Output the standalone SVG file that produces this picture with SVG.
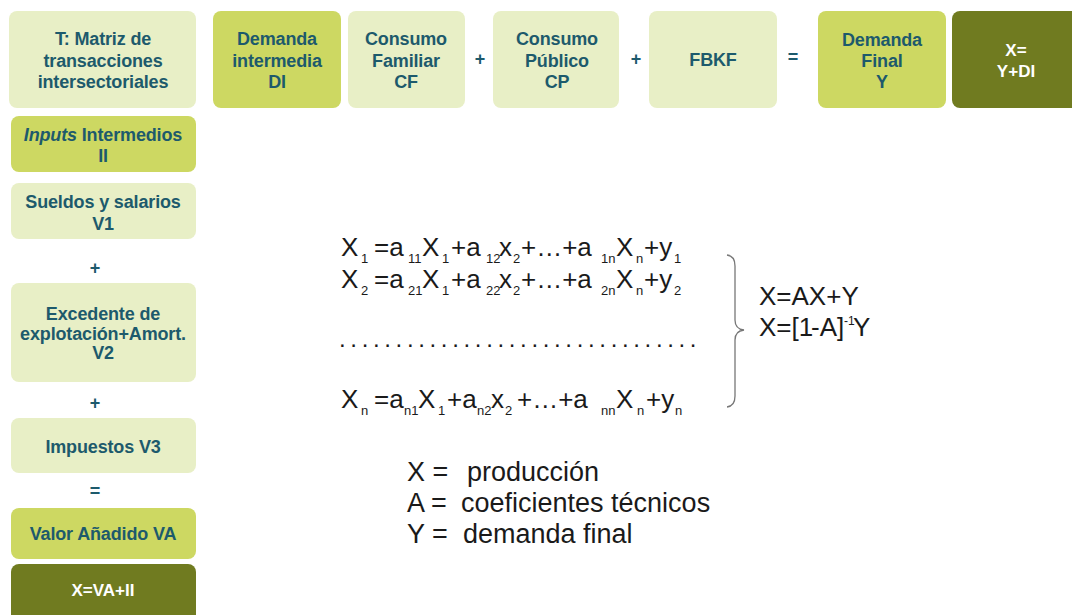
<svg xmlns="http://www.w3.org/2000/svg" width="1072" height="615" viewBox="0 0 1072 615">
  <style>
    .light { fill: #e8efc6; }
    .lime { fill: #cdd862; }
    .dark { fill: #707b20; }
    .lbl { font-family: "Liberation Sans", Arial, sans-serif; font-weight: bold; font-size: 18px; letter-spacing: -0.15px; fill: #1d5a6c; text-anchor: middle; }
    .wlbl { font-family: "Liberation Sans", Arial, sans-serif; font-weight: bold; font-size: 17px; fill: #ffffff; text-anchor: middle; }
    .op { font-family: "Liberation Sans", Arial, sans-serif; font-weight: bold; font-size: 18px; fill: #1d5a6c; text-anchor: middle; }
    .eq { font-family: "Liberation Sans", Arial, sans-serif; font-size: 26px; fill: #1a1a1a; }
    .sub { font-size: 13px; }
    .leg { font-family: "Liberation Sans", Arial, sans-serif; font-size: 27px; fill: #1a1a1a; }
  </style>
  <rect width="1072" height="615" fill="#ffffff"/>

  <!-- top row: final demand composition -->
  <g id="matriz">
    <rect class="light" x="9" y="11" width="187" height="97" rx="8"/>
    <text class="lbl"><tspan x="103" y="45">T: Matriz de</tspan><tspan x="103" y="67">transacciones</tspan><tspan x="103" y="88">intersectoriales</tspan></text>
  </g>
  <g id="demanda-intermedia">
    <rect class="lime" x="213" y="11" width="128" height="97" rx="8"/>
    <text class="lbl"><tspan x="277" y="45">Demanda</tspan><tspan x="277" y="67">intermedia</tspan><tspan x="277" y="88">DI</tspan></text>
  </g>
  <g id="consumo-familiar">
    <rect class="light" x="348" y="11" width="117" height="97" rx="8"/>
    <text class="lbl"><tspan x="406" y="45">Consumo</tspan><tspan x="406" y="67">Familiar</tspan><tspan x="406" y="88">CF</tspan></text>
  </g>
  <g id="consumo-publico">
    <rect class="light" x="493" y="11" width="126" height="97" rx="8"/>
    <text class="lbl"><tspan x="557" y="45">Consumo</tspan><tspan x="557" y="67">Público</tspan><tspan x="557" y="88">CP</tspan></text>
  </g>
  <g id="fbkf">
    <rect class="light" x="649" y="11" width="128" height="97" rx="8"/>
    <text class="lbl" x="713" y="66">FBKF</text>
  </g>
  <g id="demanda-final">
    <rect class="lime" x="818" y="11" width="128" height="97" rx="8"/>
    <text class="lbl"><tspan x="882" y="46">Demanda</tspan><tspan x="882" y="67">Final</tspan><tspan x="882" y="88">Y</tspan></text>
  </g>
  <g id="x-total-fila">
    <rect class="dark" x="952" y="11" width="130" height="97" rx="8"/>
    <text class="wlbl"><tspan x="1016" y="56">X=</tspan><tspan x="1016" y="77">Y+DI</tspan></text>
  </g>

  <!-- left column: value added composition -->
  <g id="inputs-intermedios">
    <rect class="lime" x="11" y="116" width="185" height="56" rx="8"/>
    <text class="lbl"><tspan x="103" y="141"><tspan font-style="italic">Inputs</tspan> Intermedios</tspan><tspan x="103" y="162">II</tspan></text>
  </g>
  <g id="sueldos">
    <rect class="light" x="11" y="183" width="185" height="56" rx="8"/>
    <text class="lbl"><tspan x="103" y="208">Sueldos y salarios</tspan><tspan x="103" y="230">V1</tspan></text>
  </g>
  <g id="excedente">
    <rect class="light" x="11" y="283" width="185" height="99" rx="8"/>
    <text class="lbl"><tspan x="103" y="320">Excedente de</tspan><tspan x="103" y="340">explotación+Amort.</tspan><tspan x="103" y="359">V2</tspan></text>
  </g>
  <g id="impuestos">
    <rect class="light" x="11" y="418" width="185" height="55" rx="8"/>
    <text class="lbl" x="103" y="453">Impuestos V3</text>
  </g>
  <g id="valor-anadido">
    <rect class="lime" x="11" y="508" width="185" height="51" rx="8"/>
    <text class="lbl" x="103" y="540">Valor Añadido VA</text>
  </g>
  <g id="x-total-columna">
    <rect class="dark" x="11" y="564" width="185" height="60" rx="8"/>
    <text class="wlbl" x="103" y="596">X=VA+II</text>
  </g>

  <!-- operators between boxes -->
  <g id="connectors">
    <text class="op" x="480" y="65">+</text>
    <text class="op" x="636" y="65">+</text>
    <text class="op" x="793" y="63">=</text>
    <text class="op" x="95" y="274">+</text>
    <text class="op" x="95" y="409">+</text>
    <text class="op" x="95" y="497">=</text>
  </g>

  <!-- system of equations -->
  <g id="ecuaciones" class="eq">
    <text y="256"><tspan x="341">X</tspan><tspan class="sub" x="361" dy="7">1</tspan><tspan x="374" dy="-7">=a</tspan><tspan class="sub" x="408" dy="7">11</tspan><tspan x="422" dy="-7">X</tspan><tspan class="sub" x="442" dy="7">1</tspan><tspan x="451" dy="-7">+a</tspan><tspan class="sub" x="486" dy="7">12</tspan><tspan x="499" dy="-7">x</tspan><tspan class="sub" x="513" dy="7">2</tspan><tspan x="521" dy="-7">+…+a</tspan><tspan class="sub" x="601" dy="7">1n</tspan><tspan x="616" dy="-7">X</tspan><tspan class="sub" x="636" dy="7">n</tspan><tspan x="644" dy="-7">+y</tspan><tspan class="sub" x="674" dy="7">1</tspan></text>
    <text y="288"><tspan x="341">X</tspan><tspan class="sub" x="361" dy="7">2</tspan><tspan x="374" dy="-7">=a</tspan><tspan class="sub" x="408" dy="7">21</tspan><tspan x="422" dy="-7">X</tspan><tspan class="sub" x="442" dy="7">1</tspan><tspan x="451" dy="-7">+a</tspan><tspan class="sub" x="486" dy="7">22</tspan><tspan x="499" dy="-7">x</tspan><tspan class="sub" x="513" dy="7">2</tspan><tspan x="521" dy="-7">+…+a</tspan><tspan class="sub" x="601" dy="7">2n</tspan><tspan x="616" dy="-7">X</tspan><tspan class="sub" x="636" dy="7">n</tspan><tspan x="644" dy="-7">+y</tspan><tspan class="sub" x="674" dy="7">2</tspan></text>
    <text x="339" y="347" font-size="24" letter-spacing="4.65">................................</text>
    <text y="408"><tspan x="341">X</tspan><tspan class="sub" x="361" dy="7">n</tspan><tspan x="374" dy="-7">=a</tspan><tspan class="sub" x="404" dy="7">n1</tspan><tspan x="418" dy="-7">X</tspan><tspan class="sub" x="438" dy="7">1</tspan><tspan x="447" dy="-7">+a</tspan><tspan class="sub" x="477" dy="7">n2</tspan><tspan x="491" dy="-7">x</tspan><tspan class="sub" x="505" dy="7">2</tspan><tspan x="517" dy="-7">+…+a</tspan><tspan class="sub" x="601" dy="7">nn</tspan><tspan x="616" dy="-7">X</tspan><tspan class="sub" x="637" dy="7">n</tspan><tspan x="646" dy="-7">+y</tspan><tspan class="sub" x="675" dy="7">n</tspan></text>
  </g>

  <!-- brace grouping the system -->
  <path id="llave" d="M727 255 Q735 256 735 266 L735 320 Q735 329 744 330 Q735 331 735 340 L735 396 Q735 406 727 407" fill="none" stroke="#777" stroke-width="1.3"/>

  <g id="solucion" class="eq">
    <text x="759" y="305">X=AX+Y</text>
    <text y="336"><tspan x="759">X=[1</tspan><tspan x="811">-A]</tspan><tspan x="844" font-size="12" dy="-11">-1</tspan><tspan x="853" dy="11">Y</tspan></text>
  </g>

  <g id="leyenda" class="leg">
    <text x="407" y="481">X =</text>
    <text x="467" y="481">producción</text>
    <text x="407" y="512">A =</text>
    <text x="461" y="512">coeficientes técnicos</text>
    <text x="407" y="543">Y =</text>
    <text x="463" y="543">demanda final</text>
  </g>
</svg>
